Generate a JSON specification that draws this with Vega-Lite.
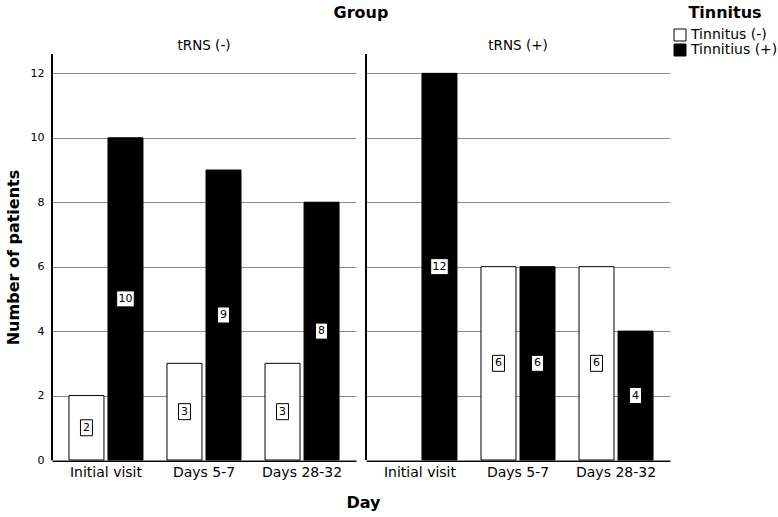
{
  "$schema": "https://vega.github.io/schema/vega-lite/v6.json",
  "padding": {"left": 5, "top": 5, "right": 2, "bottom": 3},
  "title": {
    "text": "Day",
    "orient": "bottom",
    "anchor": "middle",
    "frame": "bounds",
    "dx": -28,
    "fontSize": 16,
    "fontWeight": "bold",
    "font": "DejaVu Sans",
    "color": "black",
    "offset": 16
  },
  "data": {
    "values": [
      {"Group": "tRNS (-)", "Day": "Initial visit", "Tinnitus": "Tinnitus (-)", "Count": 2},
      {"Group": "tRNS (-)", "Day": "Initial visit", "Tinnitus": "Tinnitius (+)", "Count": 10},
      {"Group": "tRNS (-)", "Day": "Days 5-7", "Tinnitus": "Tinnitus (-)", "Count": 3},
      {"Group": "tRNS (-)", "Day": "Days 5-7", "Tinnitus": "Tinnitius (+)", "Count": 9},
      {"Group": "tRNS (-)", "Day": "Days 28-32", "Tinnitus": "Tinnitus (-)", "Count": 3},
      {"Group": "tRNS (-)", "Day": "Days 28-32", "Tinnitus": "Tinnitius (+)", "Count": 8},
      {"Group": "tRNS (+)", "Day": "Initial visit", "Tinnitus": "Tinnitus (-)", "Count": 0},
      {"Group": "tRNS (+)", "Day": "Initial visit", "Tinnitus": "Tinnitius (+)", "Count": 12},
      {"Group": "tRNS (+)", "Day": "Days 5-7", "Tinnitus": "Tinnitus (-)", "Count": 6},
      {"Group": "tRNS (+)", "Day": "Days 5-7", "Tinnitus": "Tinnitius (+)", "Count": 6},
      {"Group": "tRNS (+)", "Day": "Days 28-32", "Tinnitus": "Tinnitus (-)", "Count": 6},
      {"Group": "tRNS (+)", "Day": "Days 28-32", "Tinnitus": "Tinnitius (+)", "Count": 4}
    ]
  },
  "facet": {
    "column": {
      "field": "Group",
      "type": "nominal",
      "sort": ["tRNS (-)", "tRNS (+)"],
      "header": {
        "title": "Group",
        "titleFont": "DejaVu Sans",
        "titleFontSize": 16,
        "titleFontWeight": "bold",
        "titleColor": "black",
        "titlePadding": 7,
        "labelFont": "DejaVu Sans",
        "labelFontSize": 13.5,
        "labelColor": "black",
        "labelPadding": 1
      }
    }
  },
  "spacing": 9,
  "spec": {
    "width": 304,
    "height": 406,
    "layer": [
      {
        "transform": [{"filter": "datum.Count > 0"}],
        "mark": {"type": "bar", "stroke": "black", "strokeWidth": 1, "opacity": 1},
        "encoding": {
          "x": {
            "field": "Day",
            "type": "nominal",
            "sort": ["Initial visit", "Days 5-7", "Days 28-32"],
            "scale": {"paddingInner": 0.245, "paddingOuter": 0.173},
            "axis": {
              "title": null,
              "labelAngle": 0,
              "labelFont": "DejaVu Sans",
              "labelFontSize": 14,
              "labelColor": "black",
              "labelPadding": 4,
              "ticks": false,
              "domainColor": "black",
              "grid": false
            }
          },
          "xOffset": {
            "field": "Tinnitus",
            "type": "nominal",
            "sort": ["Tinnitus (-)", "Tinnitius (+)"],
            "scale": {"domain": ["Tinnitus (-)", "Tinnitius (+)"], "paddingInner": 0.103}
          },
          "y": {
            "field": "Count",
            "type": "quantitative",
            "scale": {"domain": [0, 12.6], "nice": false},
            "axis": {
              "title": "Number of patients",
              "titleFont": "DejaVu Sans",
              "titleFontSize": 16,
              "titleFontWeight": "bold",
              "titleColor": "black",
              "titlePadding": 9,
              "values": [0, 2, 4, 6, 8, 10, 12],
              "labelFont": "DejaVu Sans",
              "labelFontSize": 11,
              "labelColor": "black",
              "labelPadding": 7,
              "ticks": false,
              "domainColor": "black",
              "gridColor": "#8a8a8a",
              "gridOpacity": 1
            }
          },
          "color": {
            "field": "Tinnitus",
            "type": "nominal",
            "scale": {"domain": ["Tinnitus (-)", "Tinnitius (+)"], "range": ["white", "black"]},
            "legend": {
              "title": "Tinnitus",
              "orient": "none",
              "legendX": 621,
              "legendY": -49,
              "titleFont": "DejaVu Sans",
              "titleFontSize": 16,
              "titleFontWeight": "bold",
              "titleColor": "black",
              "titleAnchor": "middle",
              "titleAlign": "center",
              "titlePadding": 7,
              "labelFont": "DejaVu Sans",
              "labelFontSize": 14,
              "labelColor": "black",
              "symbolType": "square",
              "symbolSize": 144,
              "symbolStrokeColor": "black",
              "symbolStrokeWidth": 1,
              "symbolOpacity": 1,
              "rowPadding": -1,
              "labelOffset": 4
            }
          }
        }
      },
      {
        "transform": [
          {"filter": "datum.Count > 0"},
          {"calculate": "datum.Count / 2", "as": "Mid"}
        ],
        "mark": {"type": "point", "filled": true, "fill": "white", "stroke": "black", "strokeWidth": 1, "opacity": 1, "size": 256},
        "encoding": {
          "x": {"field": "Day", "type": "nominal", "sort": ["Initial visit", "Days 5-7", "Days 28-32"]},
          "xOffset": {"field": "Tinnitus", "type": "nominal", "sort": ["Tinnitus (-)", "Tinnitius (+)"]},
          "y": {"field": "Mid", "type": "quantitative"},
          "shape": {
            "condition": {"test": "datum.Count >= 10", "value": "M-1.1,-1H1.1V1H-1.1Z"},
            "value": "M-0.75,-1H0.75V1H-0.75Z"
          }
        }
      },
      {
        "transform": [
          {"filter": "datum.Count > 0"},
          {"calculate": "datum.Count / 2", "as": "Mid"}
        ],
        "mark": {"type": "text", "font": "DejaVu Sans", "fontSize": 11, "color": "black", "baseline": "middle", "align": "center"},
        "encoding": {
          "x": {"field": "Day", "type": "nominal", "sort": ["Initial visit", "Days 5-7", "Days 28-32"]},
          "xOffset": {"field": "Tinnitus", "type": "nominal", "sort": ["Tinnitus (-)", "Tinnitius (+)"]},
          "y": {"field": "Mid", "type": "quantitative"},
          "text": {"field": "Count", "type": "quantitative"}
        }
      },
      {
        "mark": {"type": "rule", "color": "black", "strokeWidth": 1},
        "encoding": {
          "x": {"datum": "Initial visit", "bandPosition": -0.2291}
        }
      }
    ]
  },
  "config": {
    "font": "DejaVu Sans",
    "view": {"stroke": null}
  }
}
